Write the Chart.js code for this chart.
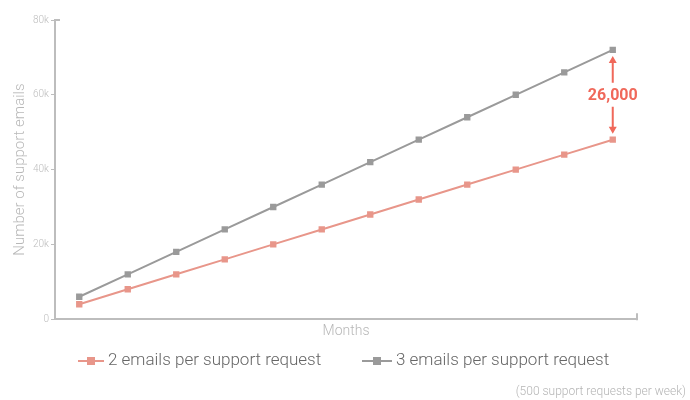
<!DOCTYPE html>
<html>
<head>
<meta charset="utf-8">
<script src="https://cdn.jsdelivr.net/npm/chart.js@4"></script>
<style>
  html, body { margin: 0; padding: 0; background: #fff; }
  #wrap { width: 690px; height: 400px; position: relative; }
</style>
</head>
<body>
<div id="wrap"><canvas id="emailChart"></canvas></div>
<script>
// --- data ---
const months = ['1', '2', '3', '4', '5', '6', '7', '8', '9', '10', '11', '12'];
const twoEmails = [4000, 8000, 12000, 16000, 20000, 24000, 28000, 32000, 36000, 40000, 44000, 48000];
const threeEmails = [6000, 12000, 18000, 24000, 30000, 36000, 42000, 48000, 54000, 60000, 66000, 72000];
const seriesNames = ['2 emails per support request', '3 emails per support request'];
const yTicks = [0, 20000, 40000, 60000, 80000];
const gapLabel = '26,000';
const footnote = '(500 support requests per week)';

const PINK = '#e8968a';
const GRAY = '#9a9a9a';
const RED = '#f0685a';
const AXIS = '#bdbdbd';
const FONT = 'Roboto, "Liberation Sans", sans-serif';

// axis caps, gap annotation, legend and footnote
const extrasPlugin = {
    id: 'extras',
    afterDraw(chart) {
        const ctx = chart.ctx;
        const x = chart.scales.x, y = chart.scales.y;
        const area = chart.chartArea;
        ctx.save();

        // little caps at the axis ends
        ctx.strokeStyle = AXIS;
        ctx.lineWidth = 2;
        ctx.beginPath();
        ctx.moveTo(area.left - 1, area.top);
        ctx.lineTo(area.left + 5, area.top);
        ctx.moveTo(area.right, area.bottom + 1);
        ctx.lineTo(area.right, area.bottom - 6);
        ctx.stroke();

        // gap annotation between the last points
        const last = months.length - 1;
        const px = x.getPixelForValue(last);
        const yTop = y.getPixelForValue(threeEmails[last]);
        const yBot = y.getPixelForValue(twoEmails[last]);
        const mid = (yTop + yBot) / 2;
        ctx.strokeStyle = RED;
        ctx.fillStyle = RED;
        ctx.lineWidth = 2;
        ctx.beginPath();
        ctx.moveTo(px, mid - 12); ctx.lineTo(px, yTop + 10);
        ctx.moveTo(px, mid + 12); ctx.lineTo(px, yBot - 10);
        ctx.stroke();
        ctx.beginPath();
        ctx.moveTo(px, yTop + 6); ctx.lineTo(px - 4, yTop + 13); ctx.lineTo(px + 4, yTop + 13); ctx.closePath();
        ctx.moveTo(px, yBot - 6); ctx.lineTo(px - 4, yBot - 13); ctx.lineTo(px + 4, yBot - 13); ctx.closePath();
        ctx.fill();
        ctx.font = 'bold 16px ' + FONT;
        ctx.textAlign = 'center';
        ctx.textBaseline = 'middle';
        ctx.fillText(gapLabel, px, mid + 1);

        // legend
        const items = [
            { color: PINK, text: seriesNames[0], x0: 78, x1: 104 },
            { color: GRAY, text: seriesNames[1], x0: 362, x1: 392 }
        ];
        const ly = 361;
        items.forEach(it => {
            ctx.strokeStyle = it.color;
            ctx.fillStyle = it.color;
            ctx.lineWidth = 2;
            ctx.beginPath();
            ctx.moveTo(it.x0, ly); ctx.lineTo(it.x1, ly);
            ctx.stroke();
            const c = (it.x0 + it.x1) / 2;
            ctx.fillRect(c - 4, ly - 4, 8, 8);
            ctx.fillStyle = '#666';
            ctx.font = '300 17px ' + FONT;
            ctx.textAlign = 'left';
            ctx.textBaseline = 'middle';
            ctx.fillText(it.text, it.x1 + 4, ly);
        });

        // footnote
        ctx.fillStyle = '#b5b5b5';
        ctx.font = '300 12px ' + FONT;
        ctx.textAlign = 'right';
        ctx.fillText(footnote, 686, 392);
        ctx.restore();
    }
};

new Chart(document.getElementById('emailChart'), {
    type: 'line',
    data: {
        labels: months,
        datasets: [
            { label: seriesNames[0], data: twoEmails, borderColor: PINK, backgroundColor: PINK,
              borderWidth: 2, pointStyle: 'rect', pointRadius: 4.5, pointBorderWidth: 0, tension: 0 },
            { label: seriesNames[1], data: threeEmails, borderColor: GRAY, backgroundColor: GRAY,
              borderWidth: 2, pointStyle: 'rect', pointRadius: 4.5, pointBorderWidth: 0, tension: 0 }
        ]
    },
    options: {
        responsive: true,
        maintainAspectRatio: false,
        animation: false,
        layout: { padding: { left: 0, right: 53, top: 20, bottom: 56 } },
        plugins: { legend: { display: false }, tooltip: { enabled: false } },
        scales: {
            x: {
                type: 'category',
                offset: true,
                grid: { display: false, drawTicks: false, tickLength: 0 },
                border: { display: true, color: AXIS, width: 2 },
                ticks: { display: false },
                title: { display: true, text: 'Months', color: '#b8b8b8',
                         font: { family: FONT, size: 14, weight: '300' }, padding: { top: 4, bottom: 4 } }
            },
            y: {
                min: 0, max: 80000,
                afterFit: s => { s.width = 55; },
                afterBuildTicks: s => { s.ticks = yTicks.map(v => ({ value: v })); },
                grid: { drawOnChartArea: false, tickLength: 4, color: AXIS, lineWidth: 1 },
                border: { display: true, color: AXIS, width: 2 },
                ticks: { color: '#bdbdbd', padding: 2, font: { family: FONT, size: 10, weight: '300' },
                         callback: v => v === 0 ? '0' : (v / 1000) + 'k' },
                title: { display: true, text: 'Number of support emails', color: '#b8b8b8',
                         font: { family: FONT, size: 15, weight: '300' }, padding: { top: 11, bottom: 0 } }
            }
        }
    },
    plugins: [extrasPlugin]
});
</script>
</body>
</html>
